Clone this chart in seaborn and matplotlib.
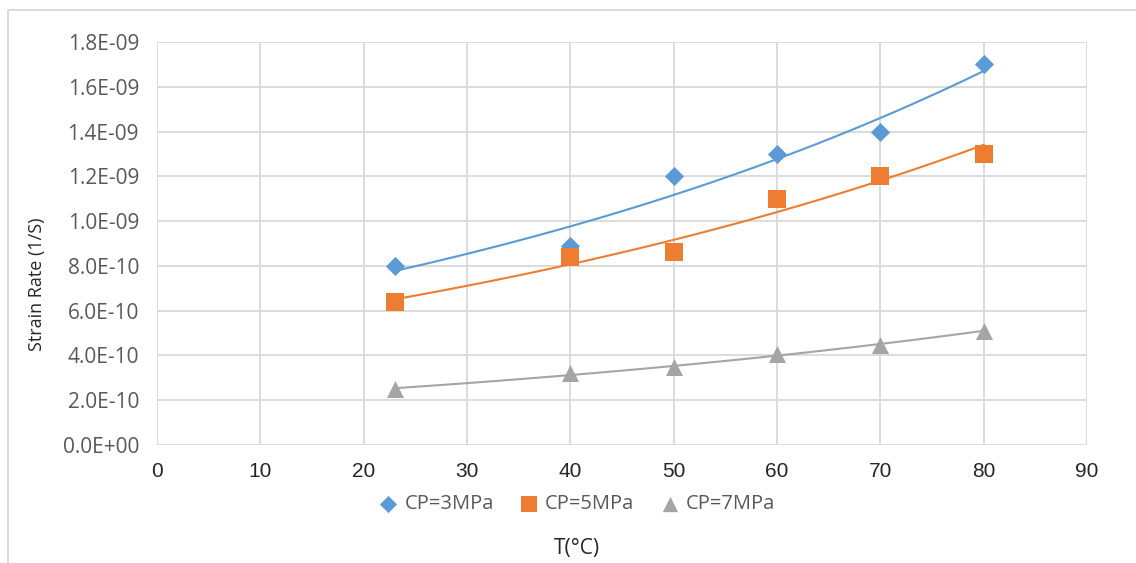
import numpy as np
import pandas as pd
import matplotlib
matplotlib.use("Agg")
import matplotlib.pyplot as plt
import seaborn as sns

# data
temps = [23, 40, 50, 60, 70, 80]
cp3 = [0.80e-9, 0.89e-9, 1.20e-9, 1.30e-9, 1.40e-9, 1.70e-9]
cp5 = [0.64e-9, 0.84e-9, 0.86e-9, 1.10e-9, 1.20e-9, 1.30e-9]
cp7 = [0.25e-9, 0.32e-9, 0.35e-9, 0.405e-9, 0.445e-9, 0.51e-9]
series_names = ["CP=3MPa", "CP=5MPa", "CP=7MPa"]
x_ticks = [0, 10, 20, 30, 40, 50, 60, 70, 80, 90]
y_ticks = [0.0, 0.2e-9, 0.4e-9, 0.6e-9, 0.8e-9, 1.0e-9, 1.2e-9, 1.4e-9, 1.6e-9, 1.8e-9]

colors = {"CP=3MPa": "#5B9BD5", "CP=5MPa": "#ED7D31", "CP=7MPa": "#A5A5A5"}
markers = {"CP=3MPa": "D", "CP=5MPa": "s", "CP=7MPa": "^"}
sizes = {"CP=3MPa": 95, "CP=5MPa": 150, "CP=7MPa": 150}

sns.set_style("white")
plt.rcParams['font.family'] = ['Open Sans', 'DejaVu Sans']

rows = []
for name, vals in zip(series_names, [cp3, cp5, cp7]):
    for t, v in zip(temps, vals):
        rows.append({"T": t, "rate": v, "series": name})
df = pd.DataFrame(rows)

# exponential trendlines (Excel style), fitted to the points
trend_rows = []
for name, vals in zip(series_names, [cp3, cp5, cp7]):
    b, a = np.polyfit(temps, np.log(vals), 1)
    xs = np.linspace(temps[0], temps[-1], 100)
    for x in xs:
        trend_rows.append({"T": x, "rate": np.exp(a + b * x), "series": name})
trend = pd.DataFrame(trend_rows)

fig = plt.figure(figsize=(11.36, 5.63), dpi=100)
ax = fig.add_axes([0.1382, 0.2096, 0.957 - 0.1382, 0.9254 - 0.2096])

sns.lineplot(data=trend, x="T", y="rate", hue="series", palette=colors,
             linewidth=1.5, legend=False, ax=ax, zorder=2)
for name in series_names:
    sub = df[df["series"] == name]
    sns.scatterplot(data=sub, x="T", y="rate", color=colors[name],
                    marker=markers[name], s=sizes[name], linewidth=0,
                    label=name, ax=ax, zorder=3)

ax.set_xlim(0, 90)
ax.set_ylim(0, 1.8e-9)
ax.set_xticks(x_ticks)
ax.set_yticks(y_ticks)
ax.set_yticklabels(["%.1E" % v for v in y_ticks])
ax.grid(True, color="#d9d9d9", linewidth=1.3)
for s in ax.spines.values():
    s.set_visible(False)
ax.tick_params(axis="y", labelsize=15, colors="#595959", length=0, pad=13)
ax.tick_params(axis="x", labelsize=15, colors="#262626", length=0, pad=12)
for lab in ax.get_xticklabels():
    lab.set_family(["Liberation Sans", "DejaVu Sans"])
ax.set_xlabel("")
ax.set_ylabel("")
fig.text(0.0326, 0.4956, "Strain Rate (1/S)", rotation=90, ha="center", va="center",
         fontsize=13, color="#262626")

ax.get_legend().remove()
handles, labels = ax.get_legend_handles_labels()
leg = fig.legend(handles, labels, loc="center", bbox_to_anchor=(0.508, 0.105),
                 ncol=3, frameon=False, fontsize=14.5, handlelength=0.9,
                 handletextpad=0.35, columnspacing=1.3, markerscale=0.9,
                 labelcolor="#595959")

fig.text(0.508, 0.025, "T(°C)", ha="center", va="center", fontsize=15, color="#262626")

# light chart-area border like the spreadsheet frame
fig.patches.append(plt.Rectangle((0.007, -0.05), 1.1, 1.033, transform=fig.transFigure,
                                 fill=False, edgecolor="#d9d9d9", linewidth=1.3))

fig.savefig("out.png", dpi=100, facecolor="white")
